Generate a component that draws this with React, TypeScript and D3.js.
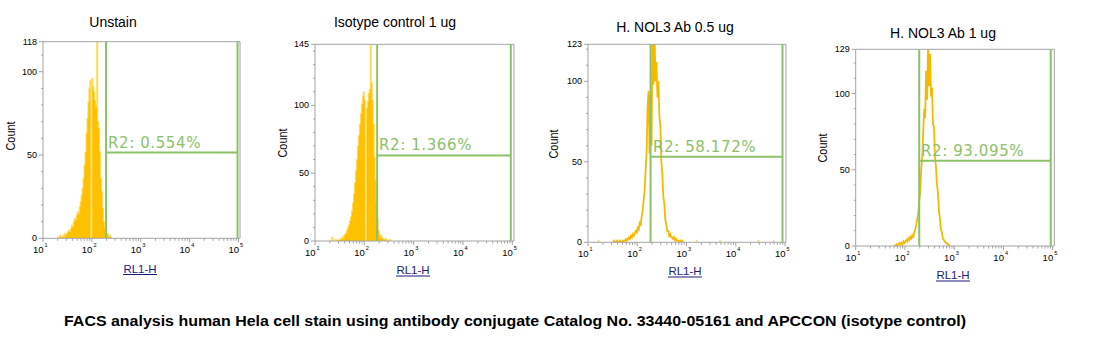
import React from 'react';
import * as d3 from 'd3';

// ---------- data ----------
const titles = ['Unstain', 'Isotype control 1 ug', 'H. NOL3 Ab 0.5 ug', 'H. NOL3 Ab 1 ug'];
const yMaxes = [118, 145, 123, 129];
const gateLabels = ['R2: 0.554%', 'R2: 1.366%', 'R2: 58.172%', 'R2: 93.095%'];
const gateLowExp = [2.29, 2.26, 2.27, 2.29];
const gateHighExp = [4.98, 4.97, 4.95, 4.96];
const gateLevel = [51.5, 63, 53.2, 55.9];
const binStep = 0.02;
const binStartExp = [1.3, 1.3, 1.5, 1.78];

const unstainCounts = [
  1, 0, 2, 1, 1, 2, 1, 3, 2, 3,
  4, 5, 4, 6, 8, 7, 10, 12, 11, 14,
  16, 15, 19, 22, 26, 30, 36, 44, 52, 63,
  72, 82, 90, 95, 0, 96, 91, 88, 83, 79,
  121, 70, 66, 52, 36, 28, 18, 10, 6, 3,
  2, 3, 1, 2, 1, 0,
];
const isotypeCounts = [
  0, 0, 3, 0, 0, 1, 0, 1, 0, 1,
  2, 1, 3, 2, 4, 5, 6, 8, 10, 12,
  15, 18, 22, 28, 35, 43, 52, 60, 70, 78,
  86, 94, 101, 107, 110, 104, 0, 98, 103, 109,
  112, 150, 117, 104, 86, 62, 45, 28, 16, 8,
  5, 3, 4, 2, 2, 1, 2, 1, 0, 1,
  0, 1,
];
const nol3HalfCounts = [
  0, 1, 0, 0, 1, 0, 0, 1, 0, 0,
  1, 0, 1, 2, 1, 2, 3, 2, 4, 3,
  5, 4, 6, 7, 6, 9, 8, 12, 11, 16,
  20, 26, 32, 45, 56, 84, 94, 55, 92, 60,
  130, 98, 132, 100, 112, 90, 100, 78, 72, 50,
  42, 28, 24, 14, 11, 7, 7, 4, 5, 3,
  3, 2, 3, 1, 2, 1, 1, 0, 1, 0,
  1, 0,
];
const nol3OneCounts = [
  1, 0, 1, 0, 1, 2, 1, 2, 1, 3,
  2, 3, 4, 3, 5, 4, 6, 5, 7, 6,
  9, 11, 14, 18, 21, 30, 35, 50, 58, 74,
  90, 84, 115, 96, 132, 105, 126, 98, 104, 80,
  78, 58, 52, 40, 35, 23, 18, 11, 9, 5,
  4, 3, 2, 2, 1, 1, 0,
];
const nol3HalfBlipsExp = [1.21, 1.58, 3.21, 3.68, 4.46, 4.77];
const seriesCounts = [unstainCounts, isotypeCounts, nol3HalfCounts, nol3OneCounts];
const seriesBlips = [[], [], nol3HalfBlipsExp, []];
const xTickExps = [1, 2, 3, 4, 5];
const yLabel = 'Count';
const xLabel = 'RL1-H';
const caption =
  'FACS analysis human Hela cell stain using antibody conjugate Catalog No. 33440-05161 and APCCON (isotype control)';

// ---------- layout ----------
const layouts = [
  { left: 43, right: 238.5, frameRight: 240, top: 41.7, bottom: 238.3, titleX: 113, titleY: 27, countX: 15, countY: 136, rlX: 140, rlY: 272.5, labelX: 108, labelY: 148, mode: 'fill' },
  { left: 315, right: 512.3, frameRight: 514, top: 44.3, bottom: 241, titleX: 395, titleY: 27, countX: 286.5, countY: 143, rlX: 413, rlY: 274, labelX: 379, labelY: 150, mode: 'fill' },
  { left: 588, right: 785, frameRight: 786, top: 44.3, bottom: 242.3, titleX: 675, titleY: 32, countX: 558, countY: 144, rlX: 685, rlY: 275, labelX: 653, labelY: 151.7, mode: 'line' },
  { left: 855.7, right: 1052.7, frameRight: 1054.3, top: 49.3, bottom: 246, titleX: 943, titleY: 37.5, countX: 826.7, countY: 148, rlX: 953, rlY: 279, labelX: 921, labelY: 155.7, mode: 'line' },
];

const FONT = "'Liberation Sans', Arial, sans-serif";
const GREEN = '#8cc167';
const AXIS = '#a3a3a3';

function Panel({ i }: { i: number }) {
  const L = layouts[i];
  const yMax = yMaxes[i];
  const x = d3.scaleLog().domain([10, 1e5]).range([L.left, L.right]);
  const y = d3.scaleLinear().domain([0, yMax]).range([L.bottom, L.top]);
  const counts = seriesCounts[i];
  const start = binStartExp[i];
  const clipId = `clip${i}`;

  const pts = counts.map((c, k) => ({ e: start + k * binStep, c }));
  let histPath = '';
  let outlinePath = '';
  if (L.mode === 'fill') {
    const stepPts = [...pts, { e: start + counts.length * binStep, c: counts[counts.length - 1] }];
    histPath =
      d3
        .area<{ e: number; c: number }>()
        .x((d) => x(Math.pow(10, d.e)))
        .y0(L.bottom)
        .y1((d) => y(d.c))
        .curve(d3.curveStepAfter)(stepPts) || '';
    outlinePath =
      d3
        .line<{ e: number; c: number }>()
        .x((d) => x(Math.pow(10, d.e)))
        .y((d) => y(d.c))
        .curve(d3.curveStepAfter)(stepPts) || '';
  } else {
    outlinePath =
      d3
        .line<{ e: number; c: number }>()
        .x((d) => x(Math.pow(10, d.e + binStep / 2)))
        .y((d) => y(d.c))
        .curve(d3.curveLinear)(pts) || '';
  }

  const majorY = [0, 50, 100, yMax];
  const minorY = d3.range(10, yMax, 10).filter((v) => v % 50 !== 0);
  const minorX: number[] = [];
  for (let e = 1; e < 5; e++) for (let m = 2; m <= 9; m++) minorX.push(m * Math.pow(10, e));

  const gx1 = x(Math.pow(10, gateLowExp[i]));
  const gx2 = x(Math.pow(10, gateHighExp[i]));
  const gy = y(gateLevel[i]);

  return (
    <g>
      <defs>
        <clipPath id={clipId}>
          <rect x={L.left} y={L.top} width={L.frameRight - L.left} height={L.bottom - L.top} />
        </clipPath>
      </defs>
      <text x={L.titleX} y={L.titleY} textAnchor="middle" fontFamily={FONT} fontSize={14} fill="#000">
        {titles[i]}
      </text>
      {/* histogram */}
      <g clipPath={`url(#${clipId})`}>
        {L.mode === 'fill' && <path d={histPath} fill="#ffc000" stroke="none" />}
        <path
          d={outlinePath}
          fill="none"
          stroke={L.mode === 'fill' ? '#ffdb5c' : '#f7b900'}
          strokeWidth={L.mode === 'fill' ? 1 : 1.8}
          strokeLinejoin="miter"
        />
        {seriesBlips[i].map((e, k) => (
          <line key={k} x1={x(Math.pow(10, e))} x2={x(Math.pow(10, e))} y1={L.bottom} y2={y(1.5)} stroke="#f7c34a" strokeWidth={1} />
        ))}
      </g>
      {/* frame */}
      <path
        d={`M${L.left},${L.bottom}V${L.top}H${L.frameRight}V${L.bottom}H${L.left}`}
        fill="none"
        stroke={AXIS}
        strokeWidth={1}
      />
      {/* y ticks */}
      {minorY.map((v) => (
        <line key={'my' + v} x1={L.left - 2} x2={L.left} y1={y(v)} y2={y(v)} stroke={AXIS} />
      ))}
      {majorY.map((v) => (
        <g key={'y' + v}>
          <line x1={L.left - 4} x2={L.left} y1={y(v)} y2={y(v)} stroke={AXIS} />
          <text x={L.left - 6} y={y(v)} dy="0.35em" textAnchor="end" fontFamily={FONT} fontSize={9} fill="#000">
            {v}
          </text>
        </g>
      ))}
      {/* x ticks */}
      {minorX.map((v) => (
        <line key={'mx' + v} x1={x(v)} x2={x(v)} y1={L.bottom} y2={L.bottom + 2.5} stroke={AXIS} />
      ))}
      {xTickExps.map((e) => (
        <g key={'x' + e}>
          <line x1={x(Math.pow(10, e))} x2={x(Math.pow(10, e))} y1={L.bottom} y2={L.bottom + 4} stroke={AXIS} />
          <text x={x(Math.pow(10, e)) + 0.5} y={L.bottom + 15} textAnchor="end" fontFamily={FONT} fontSize={9.5} fill="#000">
            10
          </text>
          <text x={x(Math.pow(10, e)) + 1.5} y={L.bottom + 9} fontFamily={FONT} fontSize={5.5} fill="#000">
            {e}
          </text>
        </g>
      ))}
      {/* gate */}
      <g stroke={GREEN} strokeWidth={2} fill="none">
        <line x1={gx1} x2={gx1} y1={L.top} y2={L.bottom} />
        <line x1={gx2} x2={gx2} y1={L.top} y2={L.bottom} />
        <line x1={gx1} x2={gx2} y1={gy} y2={gy} />
      </g>
      <text
        x={L.labelX}
        y={L.labelY}
        fontFamily="'DejaVu Sans', Verdana, sans-serif"
        fontSize={15}
        letterSpacing={0.6}
        fill={GREEN}
      >
        {gateLabels[i]}
      </text>
      {/* axis labels */}
      <text
        transform={`translate(${L.countX},${L.countY}) rotate(-90)`}
        textAnchor="middle"
        fontFamily={FONT}
        fontSize={13.5}
        textLength={29}
        lengthAdjust="spacingAndGlyphs"
        fill="#000"
      >
        {yLabel}
      </text>
      <text x={L.rlX} y={L.rlY} textAnchor="middle" fontFamily={FONT} fontSize={11.5} fill="#1c1c7c">
        {xLabel}
      </text>
      <line x1={L.rlX - 17} x2={L.rlX + 17} y1={L.rlY + 2} y2={L.rlY + 2} stroke="#1c1c7c" strokeWidth={1} />
    </g>
  );
}

export default function App() {
  return (
    <svg
      width={1102}
      height={355}
      viewBox="0 0 1102 355"
      style={{ position: 'absolute', left: 0, top: 0, background: '#fff' }}
    >
      <rect x={0} y={0} width={1102} height={355} fill="#fff" />
      {titles.map((_, i) => (
        <Panel key={i} i={i} />
      ))}
      <text
        x={64}
        y={326}
        fontFamily={FONT}
        fontWeight="bold"
        fontSize={14.5}
        textLength={902}
        lengthAdjust="spacingAndGlyphs"
        fill="#000"
      >
        {caption}
      </text>
    </svg>
  );
}
